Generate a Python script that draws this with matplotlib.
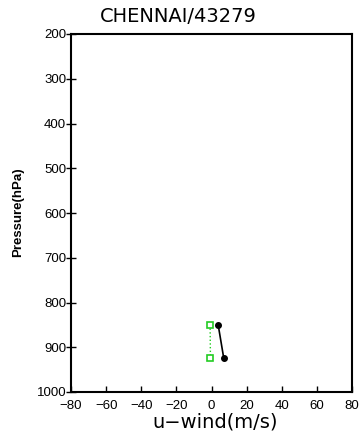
import matplotlib
matplotlib.use("Agg")
import matplotlib.pyplot as plt

# profile levels (hPa) and u-wind values (m/s)
pressure = [850, 925]
u_obs = [3.8, 7.0]
u_model = [-0.8, -0.6]

station = "CHENNAI/43279"
xticks = list(range(-80, 81, 20))
yticks = list(range(200, 1001, 100))

fig = plt.figure(figsize=(3.62, 4.38), dpi=100)
ax = fig.add_axes([71 / 362, 1 - 392 / 438, 281 / 362, 358 / 438])

ax.plot(u_obs, pressure, color="black", lw=1.2, marker="o", ms=4)
ax.plot(u_model, pressure, color="#22cc22", lw=1.0, ls=":", marker="s", ms=5,
        mfc="white", mec="#22cc22", mew=1.2)

ax.set_xlim(-80, 80)
ax.set_ylim(1000, 200)
ax.set_xticks(xticks)
ax.set_yticks(yticks)
ax.set_xticklabels([str(t).replace("-", "\u2212") for t in xticks])
ax.tick_params(axis="y", direction="inout", length=7, width=1, labelsize=9.5, pad=0)
ax.tick_params(axis="x", direction="in", length=4, width=1, labelsize=9.5, pad=6)
for lab in ax.get_xticklabels() + ax.get_yticklabels():
    lab.set_family("Liberation Sans")
for s in ax.spines.values():
    s.set_linewidth(1.5)

fig.text(178 / 362, 1 - 22 / 438, station, ha="center", va="baseline", fontsize=14,
         family="DejaVu Sans", color="black")
fig.text(215 / 362, 1 - 428 / 438, "u\u2212wind(m/s)", ha="center", va="baseline",
         fontsize=14, family="DejaVu Sans", color="black")
fig.text(18 / 362, 1 - 212 / 438, "Pressure(hPa)", ha="center", va="center",
         rotation=90, fontsize=9.5, fontweight="bold", family="Liberation Sans")

fig.savefig("out.png", dpi=100)
